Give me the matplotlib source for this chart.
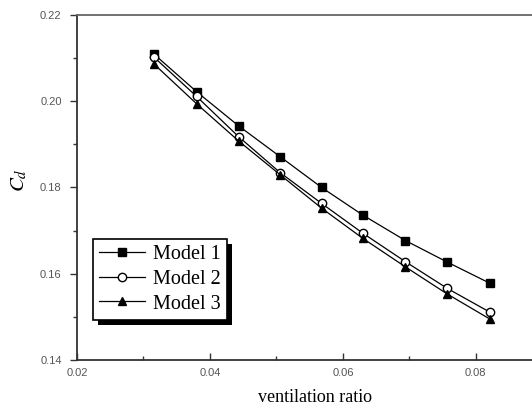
import matplotlib
matplotlib.use("Agg")
import matplotlib.pyplot as plt
from matplotlib.patches import Rectangle
from matplotlib.ticker import MultipleLocator

plt.rcParams["mathtext.fontset"] = "stix"

# drag coefficient vs ventilation ratio for the three models
vent_ratio = [0.0316, 0.0380, 0.0443, 0.0506, 0.0568, 0.0630, 0.0694, 0.0757, 0.0821]
cd_model1 = [0.2109, 0.2022, 0.1943, 0.1871, 0.1800, 0.1736, 0.1677, 0.1627, 0.1578]
cd_model2 = [0.2102, 0.2011, 0.1918, 0.1834, 0.1763, 0.1694, 0.1628, 0.1566, 0.1511]
cd_model3 = [0.2086, 0.1994, 0.1908, 0.1829, 0.1752, 0.1682, 0.1616, 0.1553, 0.1495]
labels = ["Model 1", "Model 2", "Model 3"]

fig = plt.figure(figsize=(5.32, 4.07), dpi=100)
# axes run slightly past the right edge, so the right spine is cut off
ax = fig.add_axes([0.1447, 0.1155, 0.8647, 0.8477])

ax.plot(vent_ratio, cd_model1, "-s", color="black", lw=0.9, ms=5.6,
        mfc="black", mec="black", label=labels[0])
ax.plot(vent_ratio, cd_model2, "-o", color="black", lw=0.9, ms=6.0,
        mfc="white", mec="black", mew=1.0, label=labels[1])
ax.plot(vent_ratio, cd_model3, "-^", color="black", lw=0.9, ms=6.4,
        mfc="black", mec="black", label=labels[2])

ax.set_xlim(0.02, 0.0892)
ax.set_ylim(0.14, 0.22)
ax.xaxis.set_major_locator(MultipleLocator(0.02))
ax.xaxis.set_minor_locator(MultipleLocator(0.01))
ax.yaxis.set_major_locator(MultipleLocator(0.02))
ax.yaxis.set_minor_locator(MultipleLocator(0.01))
ax.xaxis.set_major_formatter(lambda v, p: f"{v:.2f}")
ax.yaxis.set_major_formatter(lambda v, p: f"{v:.2f}")

ax.tick_params(axis="x", which="both", direction="in", top=False, color="#333333")
ax.tick_params(axis="y", which="both", direction="out", right=False, color="#333333")
ax.tick_params(which="major", length=5, width=1.0, labelsize=8,
               labelcolor="#555555", pad=6)
ax.tick_params(which="minor", length=3, width=1.0)
for side in ["left", "bottom", "top"]:
    ax.spines[side].set_color("#333333")
    ax.spines[side].set_linewidth(1.3)
ax.spines["top"].set_color("#666666")
ax.spines["right"].set_visible(False)

for lab in ax.get_xticklabels() + ax.get_yticklabels():
    lab.set_family("Liberation Sans")

ax.set_xlabel("ventilation ratio", family="Liberation Serif", fontsize=13)
ax.set_ylabel("$C_d$", fontsize=15)
ax.xaxis.set_label_coords(0.517, -0.085)
ax.yaxis.set_label_coords(-0.105, 0.52)

leg = ax.legend(loc="upper left", bbox_to_anchor=(0.035, 0.351), borderaxespad=0,
                prop={"family": "Liberation Serif", "size": 14.5},
                handlelength=2.3, handletextpad=0.4, labelspacing=0.28,
                borderpad=0.3, fancybox=False, framealpha=1, edgecolor="black")
leg.get_frame().set_linewidth(1.2)

# solid drop shadow behind the legend box
fig.canvas.draw()
bb = leg.get_window_extent()
shadow = Rectangle((bb.x0 + 5, bb.y0 - 5), bb.width, bb.height,
                   transform=None, facecolor="black", edgecolor="none", zorder=4)
ax.add_artist(shadow)
leg.set_zorder(5)

fig.savefig("out.png", dpi=100)
